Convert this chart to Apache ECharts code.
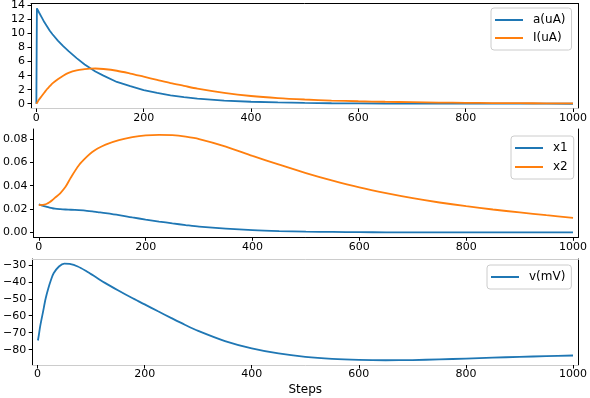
<!DOCTYPE html>
<html>
<head>
<meta charset="utf-8">
<script src="https://cdn.jsdelivr.net/npm/echarts@6/dist/echarts.min.js"></script>
<style>
    html, body { margin: 0; padding: 0; background: #fff; }
    #chart { width: 590px; height: 398px; }
</style>
</head>
<body>
<div id="chart"></div>
<script>
// sample points (steps)
var steps = [0, 1, 5, 10, 15, 20, 25, 30, 40, 50, 60, 75, 90, 100, 110, 125, 150, 175, 200, 225, 250, 275, 300,
    350, 400, 450, 500, 550, 600, 650, 700, 750, 800, 850, 900, 950, 1000];

// top panel
var aCurrent = [0, 13.6, 13.0, 12.3, 11.6, 11.0, 10.4, 9.9, 9.0, 8.2, 7.5, 6.5, 5.6, 5.1, 4.6, 4.0, 3.1, 2.5, 1.95, 1.55,
    1.2, 0.95, 0.72, 0.45, 0.28, 0.18, 0.11, 0.07, 0.05, 0.035, 0.025, 0.02, 0.015, 0.01, 0.01, 0.005, 0.0];
var iCurrent = [0, 0.1, 0.6, 1.1, 1.6, 2.1, 2.5, 2.9, 3.5, 4.0, 4.4, 4.75, 4.92, 5.0, 5.02, 4.95, 4.7, 4.3, 3.85, 3.4,
    2.95, 2.55, 2.15, 1.55, 1.1, 0.8, 0.6, 0.45, 0.35, 0.28, 0.22, 0.17, 0.13, 0.1, 0.08, 0.06, 0.05];

// middle panel
var x1Gate = [0.024, 0.0238, 0.0232, 0.0225, 0.0218, 0.0212, 0.0207, 0.0203, 0.0199, 0.0196, 0.0194, 0.019, 0.0185,
    0.018, 0.0174, 0.0165, 0.0148, 0.0128, 0.011, 0.0093, 0.0077, 0.0063, 0.005, 0.0032, 0.0019, 0.0011, 0.0006,
    0.0004, 0.0002, 0.0001, 0.0001, 0.0001, 0.0001, 0.0001, 0.0001, 0.0001, 0.0001];
var x2Gate = [0.0234, 0.0234, 0.0235, 0.0238, 0.0245, 0.0258, 0.0275, 0.0295, 0.0335, 0.039, 0.047, 0.0575, 0.0648,
    0.0688, 0.0718, 0.0752, 0.079, 0.0815, 0.0830, 0.0835, 0.0832, 0.0819, 0.0799, 0.0735, 0.0655, 0.058, 0.0508,
    0.0443, 0.0385, 0.0336, 0.0293, 0.0256, 0.0224, 0.0196, 0.0171, 0.0147, 0.0125];

// bottom panel
var vMembrane = [-74.5, -74, -66, -58, -50, -44, -39, -35, -31, -29.3, -29.5, -31, -33.5, -35.5, -37.5, -40.5, -45,
    -49.3, -53.3, -57.4, -61.4, -65.3, -68.9, -74.9, -79.2, -82.2, -84.2, -85.4, -86, -86.2, -86.1, -85.7, -85.2,
    -84.7, -84.2, -83.8, -83.4];

var xTicks = [0, 200, 400, 600, 800, 1000];
var yTicks1 = [0, 2, 4, 6, 8, 10, 12, 14];
var yTicks2 = [0, 0.02, 0.04, 0.06, 0.08];
var yTicks3 = [-80, -70, -60, -50, -40, -30];

var BLUE = '#1f77b4';
var ORANGE = '#ff7f0e';
var FONT = 'DejaVu Sans';

function pairs(arr) {
    return steps.map(function(s, i) { return [s, arr[i]]; });
}

function minusFmt(v) {
    return String(v).replace('-', '\u2212');
}

// bottom x axis + top spine
function xAxes(grid, bottomColor, topColor, withName) {
    var bottom = {
        type: 'value', gridIndex: grid, position: 'bottom', min: -10, max: 1010,
        axisLine: { show: true, onZero: false, lineStyle: { color: bottomColor, width: 1 } },
        axisTick: { show: true, length: 3.5, customValues: xTicks, lineStyle: { color: '#000' } },
        axisLabel: { customValues: xTicks, margin: 4, fontSize: 11, color: '#000', fontFamily: FONT,
            formatter: function(v) { return String(v); } },
        splitLine: { show: false }
    };
    if (withName) {
        bottom.name = 'Steps';
        bottom.nameLocation = 'middle';
        bottom.nameGap = 19;
        bottom.nameTextStyle = { fontSize: 12, color: '#000', fontFamily: FONT };
    }
    var top = {
        type: 'value', gridIndex: grid, position: 'top', min: -10, max: 1010,
        axisLine: { show: topColor != null, onZero: false, lineStyle: { color: topColor || '#fff', width: 1 } },
        axisTick: { show: false }, axisLabel: { show: false }, splitLine: { show: false }
    };
    return [bottom, top];
}

function yAxes(grid, min, max, ticks, fmt) {
    return [{
        type: 'value', gridIndex: grid, position: 'left', min: min, max: max,
        axisLine: { show: true, onZero: false, lineStyle: { color: '#000', width: 1 } },
        axisTick: { show: true, length: 3.5, customValues: ticks, lineStyle: { color: '#000' } },
        axisLabel: { customValues: ticks, margin: 6, fontSize: 11, color: '#000', fontFamily: FONT, formatter: fmt },
        splitLine: { show: false }
    }, {
        type: 'value', gridIndex: grid, position: 'right', min: min, max: max,
        axisLine: { show: true, onZero: false, lineStyle: { color: '#000', width: 1 } },
        axisTick: { show: false }, axisLabel: { show: false }, splitLine: { show: false }
    }];
}

function legendBox(names, left, top, gap) {
    return {
        data: names, orient: 'vertical', left: left, top: top,
        padding: [5, 6, 5, 4], itemGap: gap, itemWidth: 28, itemHeight: 2, icon: 'rect',
        borderColor: '#cccccc', borderWidth: 1, borderRadius: 3, backgroundColor: 'rgba(255,255,255,0.8)',
        textStyle: { fontSize: 12, color: '#000', fontFamily: FONT, lineHeight: 14, padding: [0, 0, 0, 5] }
    };
}

function lineSeries(name, color, xi, yi, arr, smooth) {
    return {
        name: name, type: 'line', xAxisIndex: xi, yAxisIndex: yi, data: pairs(arr),
        showSymbol: false, symbol: 'none', smooth: smooth,
        lineStyle: { color: color, width: 1.8 }, itemStyle: { color: color }
    };
}

var myChart = echarts.init(document.getElementById('chart'), null, { renderer: 'canvas' });

var option = {
    animation: false,
    textStyle: { fontFamily: FONT },
    grid: [
        { left: 31, top: 2, width: 549, height: 106.5 },
        { left: 31, top: 129, width: 549, height: 108.3 },
        { left: 31, top: 259, width: 549, height: 106 }
    ],
    xAxis: [].concat(
        xAxes(0, '#cccccc', '#000', false),
        xAxes(1, '#000', null, false),
        xAxes(2, '#cccccc', '#cccccc', true)
    ),
    yAxis: [].concat(
        yAxes(0, -0.68, 14.3, yTicks1, function(v) { return minusFmt(v); }),
        yAxes(1, -0.0042, 0.0885, yTicks2, function(v) { return v.toFixed(2); }),
        yAxes(2, -89, -26.6, yTicks3, function(v) { return minusFmt(v); })
    ),
    legend: [
        legendBox(['a(uA)', 'I(uA)'], 491, 8, 4),
        legendBox(['x1', 'x2'], 511, 136, 5),
        legendBox(['v(mV)'], 487, 265, 4)
    ],
    series: [
        lineSeries('a(uA)', BLUE, 0, 0, aCurrent, false),
        lineSeries('I(uA)', ORANGE, 0, 0, iCurrent, 0.3),
        lineSeries('x1', BLUE, 2, 2, x1Gate, 0.3),
        lineSeries('x2', ORANGE, 2, 2, x2Gate, 0.3),
        lineSeries('v(mV)', BLUE, 4, 4, vMembrane, 0.3)
    ]
};

myChart.setOption(option);
</script>
</body>
</html>
